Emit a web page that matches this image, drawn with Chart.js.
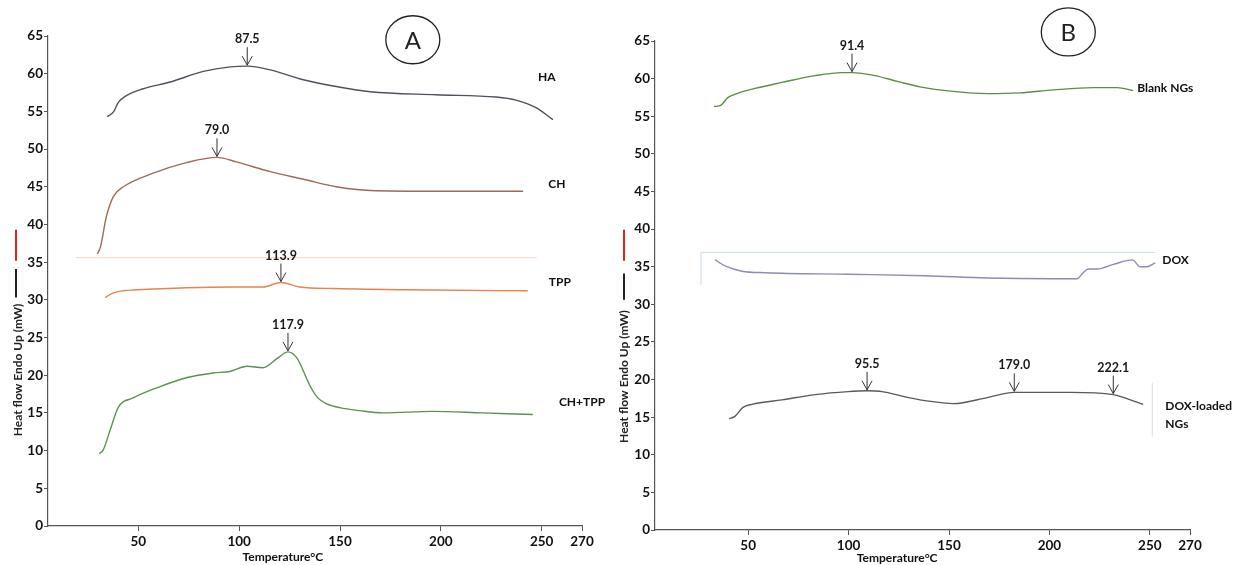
<!DOCTYPE html>
<html>
<head>
<meta charset="utf-8">
<script src="https://cdn.jsdelivr.net/npm/chart.js@4.4.0/dist/chart.umd.min.js"></script>
<style>
  html, body { margin: 0; padding: 0; background: #fff; }
  #wrap { position: relative; width: 1233px; height: 565px; overflow: hidden; }
  canvas { position: absolute; top: 0; }
  #chartA { left: 0; }
  #chartB { left: 615px; }
</style>
</head>
<body>
<div id="wrap">
  <canvas id="chartA" width="615" height="565"></canvas>
  <canvas id="chartB" width="618" height="565"></canvas>
</div>
<script>
var xTicks = [50, 100, 150, 200, 250, 270];
var yTitle = 'Heat flow Endo Up (mW)';
var xTitle = 'Temperature\u00b0C';

// panel A
var haTemp = [34.6, 37.6, 40.1, 44.1, 52.5, 65.9, 82.2, 95.6, 104, 115.4, 131.8, 148.1, 165, 197.7, 227.4, 237.3, 247.2, 255.6];
var haFlow = [54.3, 54.9, 56.2, 57.1, 58.0, 58.9, 60.3, 60.9, 61.0, 60.5, 59.2, 58.3, 57.6, 57.2, 56.9, 56.5, 55.5, 53.9];
var chTemp = [29.7, 31.2, 34.1, 37.6, 42.6, 57.4, 73.8, 89, 98.6, 115.4, 131.8, 148.1, 165, 197.7, 240.8];
var chFlow = [36.1, 37.0, 41.0, 43.7, 45.0, 46.8, 48.2, 48.9, 48.3, 47.0, 46.0, 45.0, 44.5, 44.4, 44.4];
var tppTemp = [33.5, 37.4, 42.4, 47.4, 96.9, 111.8, 120.7, 130.1, 146.5, 196, 243.1];
var tppFlow = [30.3, 30.9, 31.2, 31.3, 31.7, 31.7, 32.3, 31.7, 31.5, 31.3, 31.2];
var chTppTemp = [30.6, 32.6, 36.1, 40, 47.4, 60.8, 74.2, 87.1, 95.4, 103.9, 111.8, 118.7, 124.2, 128.6, 131.6, 135.1, 139, 143.5, 149.9, 159.8, 171.2, 196, 220.8, 245.6];
var chTppFlow = [9.6, 10.1, 12.8, 15.7, 17.0, 18.5, 19.7, 20.3, 20.5, 21.2, 21.0, 22.2, 23.1, 22.3, 20.7, 18.6, 17.0, 16.2, 15.7, 15.3, 15.0, 15.2, 15.0, 14.8];
var peaksA = [
  { text: '87.5', series: 0, at: 104 },
  { text: '79.0', series: 1, at: 89 },
  { text: '113.9', series: 2, at: 120.7 },
  { text: '117.9', series: 3, at: 124.2 }
];

// panel B
var blankTemp = [33, 36, 40, 44.4, 53.4, 66.9, 83.3, 96.8, 101.7, 113.2, 124.7, 135.6, 152.1, 169, 185.4, 201.9, 221.8, 233.8, 241.7];
var blankFlow = [56.3, 56.4, 57.5, 58.0, 58.7, 59.5, 60.4, 60.8, 60.8, 60.4, 59.6, 58.9, 58.3, 58.0, 58.1, 58.5, 58.8, 58.8, 58.4];
var doxTemp = [33.5, 38.5, 46.9, 58.4, 99.7, 138.1, 169, 201.9, 213.8, 216.8, 219.3, 223.8, 231.8, 241.3, 245.2, 248.7, 252.7];
var doxFlow = [35.9, 35.1, 34.4, 34.2, 34.0, 33.8, 33.5, 33.4, 33.4, 34.2, 34.7, 34.7, 35.3, 35.9, 35.0, 35.0, 35.5];
var loadedTemp = [40.5, 43.4, 47.4, 51.9, 66.9, 83.3, 99.7, 109.2, 116.7, 128.1, 138.1, 152.1, 169, 182.5, 193.9, 210.4, 231.8, 240.3, 246.7];
var loadedFlow = [14.8, 15.1, 16.3, 16.7, 17.3, 18.0, 18.4, 18.5, 18.4, 17.7, 17.2, 16.8, 17.6, 18.3, 18.3, 18.3, 18.0, 17.3, 16.7];
var peaksB = [
  { text: '91.4', series: 0, at: 101.7 },
  { text: '95.5', series: 2, at: 109.2 },
  { text: '179.0', series: 2, at: 182.5 },
  { text: '222.1', series: 2, at: 231.8 }
];

var panelA = {
  canvas: 'chartA',
  xMin: 5.2,
  box: { left: 48, right: 33, top: 36, bottom: 39 },
  series: [
    { name: 'HA', temp: haTemp, flow: haFlow, color: '#4f525c' },
    { name: 'CH', temp: chTemp, flow: chFlow, color: '#9b6a58' },
    { name: 'TPP', temp: tppTemp, flow: tppFlow, color: '#e8834f' },
    { name: 'CH+TPP', temp: chTppTemp, flow: chTppFlow, color: '#5f8f53' }
  ],
  peaks: peaksA,
  labels: [
    { lines: ['HA'], at: [252.5, 59.6], align: 'center' },
    { lines: ['CH'], at: [257.5, 45.4], align: 'center' },
    { lines: ['TPP'], at: [259, 32.3], align: 'center' },
    { lines: ['CH+TPP'], at: [270, 16.4], align: 'center' }
  ],
  faint: [
    { color: '#f6d9c8', pts: [[19.1, 35.6], [247.6, 35.6]] }
  ],
  badge: { text: 'A', at: [186.1, 64.5] },
  yTitle: { dx: -30, v: 20.7 },
  markers: { dx: -32, red: [39.3, 35.2], black: [34.1, 30.3] },
  xTitle: { t: 121.7, y: 557 }
};

var panelB = {
  canvas: 'chartB',
  xMin: 3.6,
  box: { left: 40, right: 43, top: 41, bottom: 35 },
  series: [
    { name: 'Blank NGs', temp: blankTemp, flow: blankFlow, color: '#5e8c48' },
    { name: 'DOX', temp: doxTemp, flow: doxFlow, color: '#8a8eb2' },
    { name: 'DOX-loaded NGs', temp: loadedTemp, flow: loadedFlow, color: '#5a5a5a' }
  ],
  peaks: peaksB,
  labels: [
    { lines: ['Blank NGs'], at: [243.7, 58.8], align: 'left' },
    { lines: ['DOX'], at: [256.2, 35.9], align: 'left' },
    { lines: ['DOX-loaded', 'NGs'], at: [257.7, 16.5], align: 'left' }
  ],
  faint: [
    { color: '#cdd8ee', pts: [[26.5, 32.6], [26.5, 36.9], [252.7, 36.9]] },
    { color: '#dcdcdc', pts: [[251.2, 19.6], [251.2, 12.4]] }
  ],
  badge: { text: 'B', at: [209.4, 66.2] },
  yTitle: { dx: -31, v: 20.4 },
  markers: { dx: -31, red: [39.9, 35.8], black: [34.1, 30.6] },
  xTitle: { t: 124.2, y: 558 }
};

// value of a series at temperature t, straight interpolation between read points
function flowAt(s, t) {
  for (var i = 1; i < s.temp.length; i++) {
    if (t <= s.temp[i]) {
      var f = (t - s.temp[i - 1]) / (s.temp[i] - s.temp[i - 1]);
      return s.flow[i - 1] + f * (s.flow[i] - s.flow[i - 1]);
    }
  }
  return s.flow[s.flow.length - 1];
}

function decorPlugin(panel) {
  return {
    id: 'decor',
    afterDraw: function(chart) {
      var ctx = chart.ctx, area = chart.chartArea;
      var px = function(t) { return chart.scales.x.getPixelForValue(t); };
      var py = function(v) { return chart.scales.y.getPixelForValue(v); };
      ctx.save();

      // faint leftover strokes from the scan
      panel.faint.forEach(function(f) {
        ctx.beginPath();
        ctx.strokeStyle = f.color;
        ctx.lineWidth = 1;
        f.pts.forEach(function(p, i) {
          if (i === 0) ctx.moveTo(px(p[0]), py(p[1]));
          else ctx.lineTo(px(p[0]), py(p[1]));
        });
        ctx.stroke();
      });

      // peak arrows
      ctx.strokeStyle = '#333';
      ctx.fillStyle = '#1a1a1a';
      ctx.lineWidth = 1;
      ctx.font = 'bold 12.5px Lato';
      ctx.textAlign = 'center';
      ctx.textBaseline = 'alphabetic';
      panel.peaks.forEach(function(p) {
        var x = px(p.at), y = py(flowAt(panel.series[p.series], p.at)) - 1;
        ctx.beginPath();
        ctx.moveTo(x, y - 18);
        ctx.lineTo(x, y);
        ctx.moveTo(x - 5, y - 9);
        ctx.lineTo(x, y);
        ctx.lineTo(x + 5, y - 9);
        ctx.stroke();
        ctx.fillText(p.text, x, y - 22);
      });

      // series names
      ctx.font = 'bold 12px Lato';
      ctx.fillStyle = '#111';
      ctx.textBaseline = 'middle';
      panel.labels.forEach(function(l) {
        ctx.textAlign = l.align;
        l.lines.forEach(function(line, i) {
          ctx.fillText(line, px(l.at[0]), py(l.at[1]) + i * 18);
        });
      });

      // circled panel letter
      var bx = px(panel.badge.at[0]), by = py(panel.badge.at[1]);
      ctx.beginPath();
      ctx.strokeStyle = '#222';
      ctx.lineWidth = 1.3;
      ctx.ellipse(bx, by, 27, 24, 0, 0, Math.PI * 2);
      ctx.stroke();
      ctx.fillStyle = '#222';
      ctx.font = '24px Lato';
      ctx.textAlign = 'center';
      ctx.fillText(panel.badge.text, bx, by + 1);

      // y title and the red / black marks beside it
      var mx = area.left + panel.markers.dx;
      ctx.lineWidth = 2;
      ctx.strokeStyle = '#e3221d';
      ctx.beginPath();
      ctx.moveTo(mx, py(panel.markers.red[0]));
      ctx.lineTo(mx, py(panel.markers.red[1]));
      ctx.stroke();
      ctx.strokeStyle = '#222';
      ctx.beginPath();
      ctx.moveTo(mx, py(panel.markers.black[0]));
      ctx.lineTo(mx, py(panel.markers.black[1]));
      ctx.stroke();

      ctx.save();
      ctx.translate(area.left + panel.yTitle.dx, py(panel.yTitle.v));
      ctx.rotate(-Math.PI / 2);
      ctx.font = 'bold 12px Lato';
      ctx.fillStyle = '#222';
      ctx.fillText(yTitle, 0, 0);
      ctx.restore();

      ctx.font = 'bold 12px Lato';
      ctx.fillStyle = '#111';
      ctx.fillText(xTitle, px(panel.xTitle.t), panel.xTitle.y);

      ctx.restore();
    }
  };
}

function buildChart(panel) {
  var datasets = panel.series.map(function(s) {
    return {
      label: s.name,
      data: s.temp.map(function(t, i) { return { x: t, y: s.flow[i] }; }),
      borderColor: s.color,
      borderWidth: 1.4,
      pointRadius: 0,
      fill: false,
      cubicInterpolationMode: 'monotone'
    };
  });

  var tickFont = { family: 'Lato', weight: 'bold', size: 13.5 };
  var axisColor = '#555';

  return new Chart(document.getElementById(panel.canvas), {
    type: 'line',
    data: { datasets: datasets },
    options: {
      responsive: false,
      animation: false,
      layout: { padding: { left: 0, top: panel.box.top, right: panel.box.right, bottom: 0 } },
      plugins: { legend: { display: false }, tooltip: { enabled: false } },
      scales: {
        x: {
          type: 'linear',
          min: panel.xMin,
          max: 270,
          afterBuildTicks: function(scale) {
            scale.ticks = xTicks.map(function(v) { return { value: v }; });
          },
          afterFit: function(scale) { scale.height = panel.box.bottom; },
          grid: { drawOnChartArea: false, drawTicks: true, tickLength: 5, color: axisColor },
          border: { color: axisColor, width: 1.2 },
          ticks: {
            padding: 3,
            color: '#111',
            font: tickFont,
            maxRotation: 0,
            callback: function(v) { return String(v); }
          }
        },
        y: {
          type: 'linear',
          min: 0,
          max: 65,
          afterFit: function(scale) { scale.width = panel.box.left; },
          grid: { drawOnChartArea: false, drawTicks: true, tickLength: 4, color: axisColor },
          border: { color: axisColor, width: 1.2 },
          ticks: {
            stepSize: 5,
            padding: 1,
            color: '#111',
            font: tickFont
          }
        }
      }
    },
    plugins: [decorPlugin(panel)]
  });
}

buildChart(panelA);
buildChart(panelB);
</script>
</body>
</html>
